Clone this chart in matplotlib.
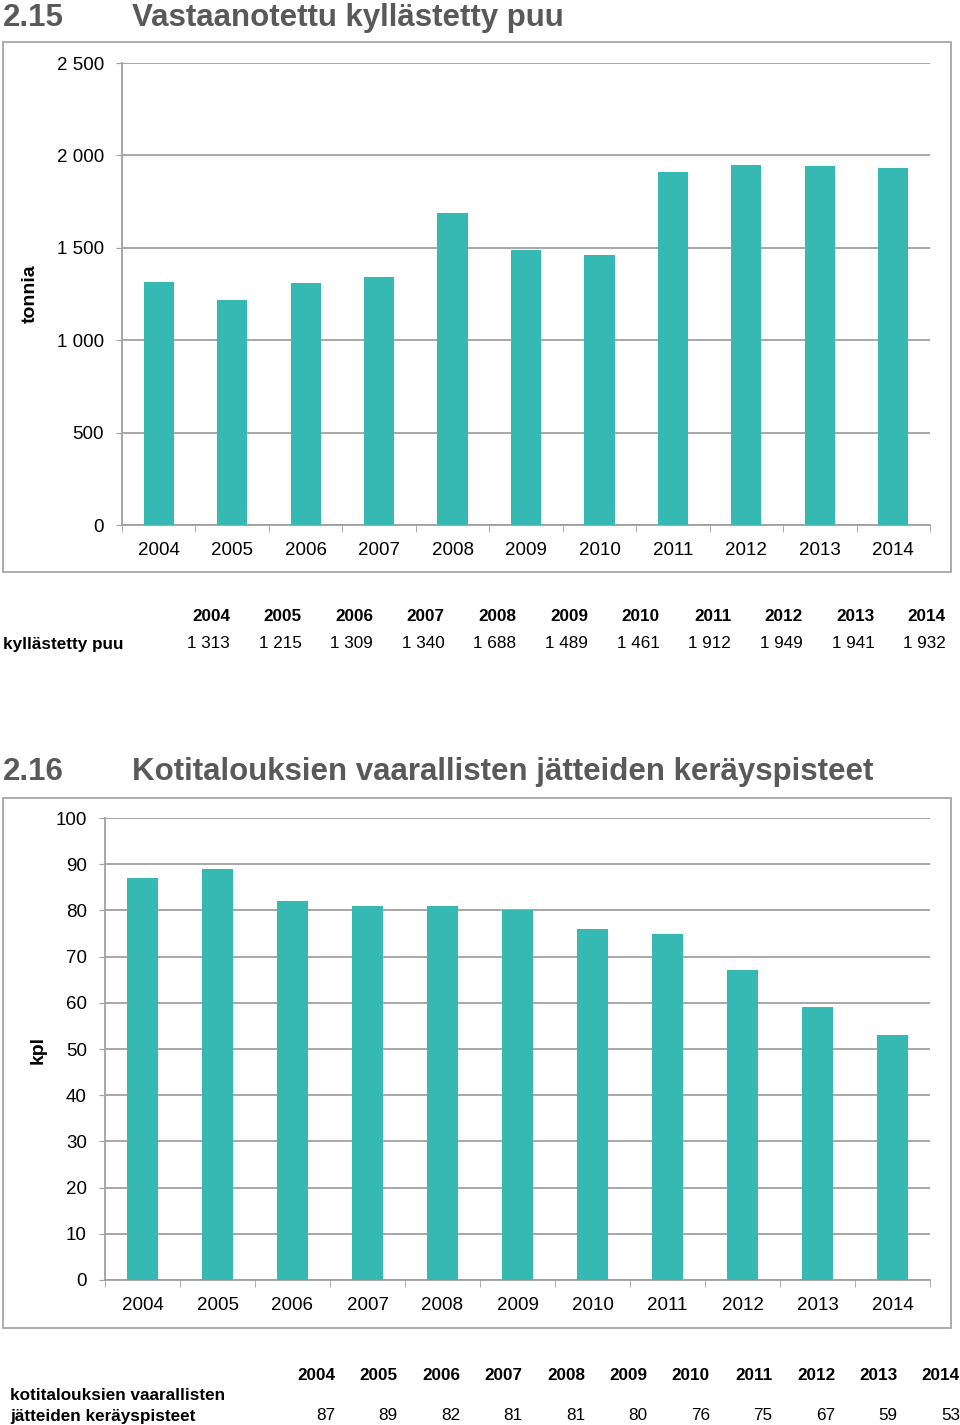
import matplotlib.pyplot as plt
from matplotlib.patches import Rectangle
import numpy as np

plt.rcParams['font.family'] = ['Liberation Sans', 'DejaVu Sans']

years = ['2004', '2005', '2006', '2007', '2008', '2009', '2010', '2011', '2012', '2013', '2014']
puu = [1313, 1215, 1309, 1340, 1688, 1489, 1461, 1912, 1949, 1941, 1932]
keraysp = [87, 89, 82, 81, 81, 80, 76, 75, 67, 59, 53]

puu_ticks = [0, 500, 1000, 1500, 2000, 2500]
kpl_ticks = list(range(0, 101, 10))

W, H = 960, 1425
BAR = '#37B9B3'
GRID = '#A0A0A0'
TITLE = '#595959'

fig = plt.figure(figsize=(W / 100, H / 100), dpi=100)


def px_axes(left, top, right, bottom):
    return fig.add_axes([left / W, 1 - bottom / H, (right - left) / W, (bottom - top) / H])


def fmt(v):
    # finnish style thousands separator
    return '{:,}'.format(v).replace(',', ' ')


def frame(left, top, right, bottom):
    fig.patches.append(Rectangle((left / W, 1 - bottom / H), (right - left) / W, (bottom - top) / H,
                                 transform=fig.transFigure, fill=False, edgecolor='#A6A6A6', lw=1.3))


def bar_chart(ax, vals, ticks, labels):
    x = np.arange(len(years))
    ax.bar(x, vals, width=0.41, color=BAR, zorder=3)
    ax.set_xlim(-0.5, len(years) - 0.5)
    ax.set_ylim(ticks[0], ticks[-1])
    ax.set_yticks(ticks)
    ax.set_yticklabels(labels, fontsize=13.5)
    ax.set_xticks(x)
    ax.set_xticklabels(years, fontsize=13.5)
    ax.set_xticks(np.arange(len(years) + 1) - 0.5, minor=True)
    ax.tick_params(axis='x', which='major', length=0, pad=12)
    ax.tick_params(axis='x', which='minor', length=5, color=GRID, direction='out')
    ax.tick_params(axis='y', length=4, color=GRID, pad=9)
    ax.grid(axis='y', color=GRID, lw=1.3, zorder=0)
    for s in ['top', 'right']:
        ax.spines[s].set_visible(False)
    for s in ['left', 'bottom']:
        ax.spines[s].set_color(GRID)
        ax.spines[s].set_linewidth(1.3)
    return ax


def title(y, num, text):
    fig.text(3 / W, 1 - y / H, num, fontsize=22.5, fontweight='bold', color=TITLE, va='baseline')
    fig.text(132 / W, 1 - y / H, text, fontsize=22.5, fontweight='bold', color=TITLE, va='baseline')


# --- 2.15 ---
title(26, '2.15', 'Vastaanotettu kyllästetty puu')
frame(3, 42, 951, 572)
ax1 = px_axes(122, 63, 930, 525)
bar_chart(ax1, puu, puu_ticks, [fmt(t) for t in puu_ticks])
fig.text(30 / W, 1 - 294 / H, 'tonnia', rotation=90, fontsize=14, fontweight='bold',
         ha='center', va='center')

for i, (yr, v) in enumerate(zip(years, puu)):
    xr = (230 + i * 71.6) / W
    fig.text(xr, 1 - 617 / H, yr, fontsize=12.3, fontweight='bold', ha='right', va='center')
    fig.text(xr, 1 - 644 / H, fmt(v), fontsize=12.3, ha='right', va='center')
fig.text(3 / W, 1 - 644 / H, 'kyllästetty puu', fontsize=12.3, fontweight='bold', va='center')

# --- 2.16 ---
title(780, '2.16', 'Kotitalouksien vaarallisten jätteiden keräyspisteet')
frame(3, 798, 951, 1328)
ax2 = px_axes(105, 818, 930, 1280)
bar_chart(ax2, keraysp, kpl_ticks, [str(t) for t in kpl_ticks])
fig.text(38 / W, 1 - 1050 / H, 'kpl', rotation=90, fontsize=14, fontweight='bold',
         ha='center', va='center')

for i, (yr, v) in enumerate(zip(years, keraysp)):
    xr = (335 + i * 62.5) / W
    fig.text(xr, 1 - 1375 / H, yr, fontsize=12.3, fontweight='bold', ha='right', va='center')
    fig.text(xr, 1 - 1416 / H, str(v), fontsize=12.3, ha='right', va='center')
fig.text(10 / W, 1 - 1395 / H, 'kotitalouksien vaarallisten', fontsize=12.3, fontweight='bold', va='center')
fig.text(10 / W, 1 - 1416 / H, 'jätteiden keräyspisteet', fontsize=12.3, fontweight='bold', va='center')

fig.savefig('out.png', dpi=100)
